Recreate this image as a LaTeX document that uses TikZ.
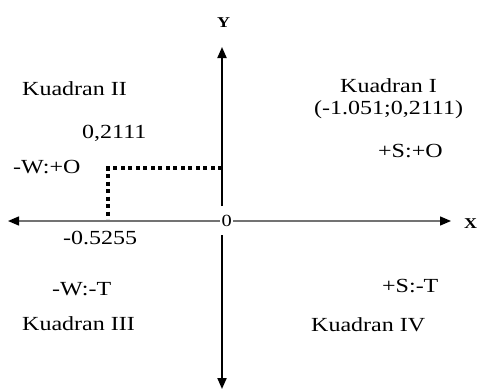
\documentclass[tikz,border=0pt]{standalone}
\usepackage{fontspec}
\setmainfont[FakeStretch=1.2]{Liberation Serif}
\usetikzlibrary{arrows.meta}
\begin{document}
\begin{tikzpicture}[x=1pt,y=-1pt,
  lbl/.style={anchor=base west,inner sep=0pt,font=\fontsize{20}{24}\selectfont},
  axlbl/.style={anchor=base west,inner sep=0pt,font=\bfseries\fontsize{15}{17}\selectfont},
  axis/.style={line width=2pt,black},
  haxis/.style={line width=1.4pt,black!55},
  tip/.style={-{Triangle[length=11pt,width=9pt,color=black,fill=black]}},
  dotline/.style={line width=4pt,dash pattern=on 4pt off 3.5pt,black}]
\useasboundingbox (0,0) rectangle (477,389);
% axis end points
\coordinate (xl) at (8,221);
\coordinate (xr) at (451,221);
\coordinate (yt) at (222,47);
\coordinate (yb) at (222,389);
\coordinate (gn) at (222,206);
\coordinate (gs) at (222,235);
% horizontal axis
\draw[haxis,tip] (gn |- xl) -- (xl);
\draw[haxis,tip] (gn |- xr) -- (xr);
% origin label
\node[anchor=base west,inner sep=1.5pt,fill=white,font=\fontsize{17}{19}\selectfont] (o) at (220,226) {0};
% vertical axis
\draw[axis,tip] (gn) -- (yt);
\draw[axis,tip] (gs) -- (yb);
% dotted guide
\coordinate (d0) at (222,168);
\coordinate (d1) at (108,168);
\coordinate (d2) at (108,219);
\draw[dotline] (d0) -- (d1) -- (d2);
% axis names
\node[axlbl] (ylab) at (217,27) {Y};
\node[axlbl] (xlab) at (464,228) {X};
% texts
\node[lbl] (k2) at (22,95) {Kuadran II};
\node[lbl] (v2) at (82,138) {0,2111};
\node[lbl] (wo) at (13,173) {-W:+O};
\node[lbl] (k1) at (340,92) {Kuadran I};
\node[lbl] (pt) at (314,114) {(-1.051;0,2111)};
\node[lbl] (so) at (378,157) {+S:+O};
\node[lbl] (vx) at (63,244) {-0.5255};
\node[lbl] (wt) at (52,295) {-W:-T};
\node[lbl] (k3) at (22,330) {Kuadran III};
\node[lbl] (st) at (382,292) {+S:-T};
\node[lbl] (k4) at (311,331) {Kuadran IV};
\end{tikzpicture}
\end{document}
